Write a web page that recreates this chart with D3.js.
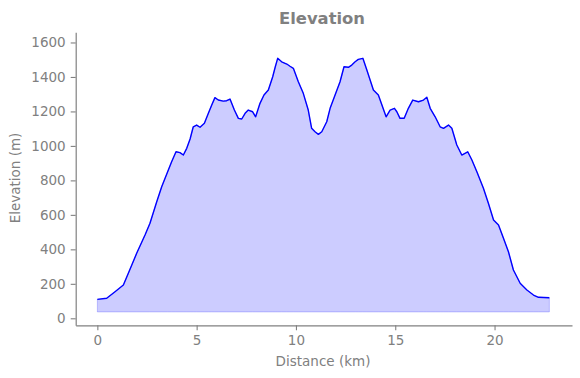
<!DOCTYPE html>
<html>
<head>
<meta charset="utf-8">
<script src="https://cdn.jsdelivr.net/npm/d3@7"></script>
<style>
  body { margin: 0; background: #fff; }
  text { font-family: "DejaVu Sans", sans-serif; }
</style>
</head>
<body>
<div id="chart"></div>
<script>
// elevation profile
var distKm = [0.00, 0.47, 0.89, 1.31, 1.56, 1.98, 2.40, 2.65, 2.99, 3.24, 3.54, 3.74, 3.96, 4.16, 4.33,
  4.50, 4.67, 4.83, 5.00, 5.17, 5.39, 5.59, 5.76, 5.92, 6.09, 6.34, 6.51, 6.68, 6.90, 7.10, 7.27,
  7.44, 7.60, 7.82, 7.97, 8.19, 8.39, 8.61, 8.83, 8.96, 9.08, 9.28, 9.54, 9.70, 9.87, 10.12, 10.37,
  10.62, 10.79, 10.96, 11.13, 11.30, 11.55, 11.72, 11.97, 12.22, 12.42, 12.64, 12.81, 12.98, 13.14,
  13.37, 13.57, 13.90, 14.15, 14.54, 14.74, 14.96, 15.08, 15.24, 15.45, 15.66, 15.88, 16.17, 16.42,
  16.59, 16.76, 17.01, 17.26, 17.43, 17.68, 17.85, 18.10, 18.35, 18.65, 18.86, 19.11, 19.44, 19.69,
  19.95, 20.20, 20.45, 20.70, 20.95, 21.29, 21.63, 21.96, 22.21, 22.76];
var elevM = [110, 116, 154, 193, 261, 377, 483, 551, 676, 763, 850, 908, 966, 961, 947,
  986, 1040, 1111, 1121, 1108, 1131, 1189, 1237, 1280, 1266, 1260, 1262, 1272, 1208, 1160, 1156,
  1189, 1208, 1198, 1169, 1247, 1295, 1324, 1401, 1459, 1508, 1488, 1475, 1462, 1450, 1372, 1305,
  1208, 1102, 1082, 1067, 1082, 1140, 1218, 1295, 1372, 1459, 1456, 1469, 1488, 1502,
  1508, 1440, 1324, 1295, 1169, 1208, 1218, 1198, 1160, 1160, 1218, 1266, 1256, 1266,
  1282, 1218, 1169, 1111, 1102, 1121, 1102, 1005, 947, 966, 918, 850, 754, 667,
  570, 541, 464, 386, 280, 203, 164, 135, 122, 119];
var fillBase = 37;
var xTicks = [0, 5, 10, 15, 20];
var yTicks = [0, 200, 400, 600, 800, 1000, 1200, 1400, 1600];

var w = 580, h = 378;
var margin = {top: 32.3, right: 8, bottom: 52.7, left: 75.7};
var grey = "#808080";

var vis = d3.select("#chart").append("svg").attr("width", w).attr("height", h);

var x = d3.scaleLinear().domain([-1.09, 23.9]).range([margin.left, w - margin.right]);
var y = d3.scaleLinear().domain([-40.6, 1659]).range([h - margin.bottom, margin.top]);

var pts = distKm.map((d, i) => [d, elevM[i]]);

// filled area under the profile
vis.append("path")
   .datum(pts)
   .attr("d", d3.area().x(d => x(d[0])).y0(y(fillBase)).y1(d => y(d[1])))
   .attr("fill", "blue").attr("fill-opacity", 0.2)
   .attr("stroke", "blue").attr("stroke-opacity", 0.2).attr("stroke-width", 1);

vis.append("path")
   .datum(pts)
   .attr("d", d3.line().x(d => x(d[0])).y(d => y(d[1])))
   .attr("fill", "none").attr("stroke", "blue").attr("stroke-width", 1.4)
   .attr("stroke-linejoin", "round");

// axes
var xAxis = vis.append("g")
   .attr("transform", "translate(0," + (h - margin.bottom) + ")")
   .call(d3.axisBottom(x).tickValues(xTicks).tickFormat(d3.format("d"))
          .tickSize(5).tickPadding(5).tickSizeOuter(0));
var yAxis = vis.append("g")
   .attr("transform", "translate(" + margin.left + ",0)")
   .call(d3.axisLeft(y).tickValues(yTicks).tickFormat(d3.format("d"))
          .tickSize(5).tickPadding(5).tickSizeOuter(0));

[xAxis, yAxis].forEach(a => {
  a.select(".domain").attr("stroke", grey).attr("stroke-width", 1.2);
  a.selectAll(".tick line").attr("stroke", grey).attr("stroke-width", 1.1);
  a.selectAll(".tick text").attr("fill", grey).style("font-size", "13.5px")
   .style("font-family", "DejaVu Sans");
});

vis.append("text")
   .attr("x", 322).attr("y", 24)
   .attr("text-anchor", "middle")
   .attr("fill", grey).style("font-size", "16.4px").style("font-weight", "bold")
   .text("Elevation");

vis.append("text")
   .attr("x", 323).attr("y", 366)
   .attr("text-anchor", "middle")
   .attr("fill", grey).style("font-size", "13.5px")
   .text("Distance (km)");

vis.append("text")
   .attr("transform", "translate(20," + 178 + ") rotate(-90)")
   .attr("text-anchor", "middle")
   .attr("fill", grey).style("font-size", "13.5px")
   .text("Elevation (m)");
</script>
</body>
</html>
